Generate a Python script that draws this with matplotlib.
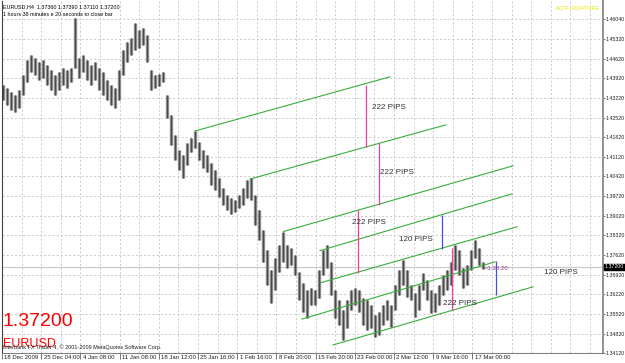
import matplotlib
matplotlib.use("Agg")
import matplotlib.pyplot as plt
import matplotlib.transforms as mtransforms
import numpy as np

# ---------------- data ----------------
symbol = "EURUSD"
title_line1 = "EURUSD,H4  1.37360 1.37390 1.37110 1.37200"
title_line2 = "1 hours 38 minutes e 20 seconds to close bar"
copyright_text = "Interbank FX Trader 4, \u00a9 2001-2009 MetaQuotes Software Corp."
indicator_text = "A:CP+2DHTRFE"
timer_text = "<1:38:20"
last_price = 1.37200

bar_high = [1.4368, 1.4357, 1.4343, 1.4332, 1.4350, 1.4404, 1.4457, 1.4475, 1.4464, 1.4450,
            1.4457, 1.4439, 1.4421, 1.4404, 1.4414, 1.4429, 1.4421, 1.4429, 1.4607, 1.4464,
            1.4475, 1.4457, 1.4439, 1.4450, 1.4429, 1.4414, 1.4386, 1.4368, 1.4357, 1.4421,
            1.4493, 1.4521, 1.4535, 1.4589, 1.4564, 1.4571, 1.4546, 1.4421, 1.4404, 1.4407,
            1.4414, 1.4332, 1.4261, 1.4189, 1.4137, 1.4119, 1.4161, 1.4179, 1.4204, 1.4165,
            1.4137, 1.4119, 1.4090, 1.4065, 1.4037, 1.4001, 1.3976, 1.3966, 1.3959, 1.3976,
            1.4001, 1.4030, 1.4037, 1.3976, 1.3923, 1.3852, 1.3781, 1.3709, 1.3752, 1.3798,
            1.3845, 1.3798, 1.3788, 1.3763, 1.3702, 1.3664, 1.3638, 1.3646, 1.3638, 1.3709,
            1.3781, 1.3798, 1.3738, 1.3638, 1.3603, 1.3567, 1.3603, 1.3638, 1.3646, 1.3638,
            1.3610, 1.3603, 1.3585, 1.3550, 1.3560, 1.3585, 1.3603, 1.3585, 1.3656, 1.3709,
            1.3745, 1.3709, 1.3656, 1.3628, 1.3656, 1.3699, 1.3674, 1.3638, 1.3628, 1.3656,
            1.3692, 1.3709, 1.3738, 1.3798, 1.3781, 1.3716, 1.3727, 1.3781, 1.3816, 1.3788,
            1.3739]
bar_low = [1.4315, 1.4297, 1.4279, 1.4272, 1.4286, 1.4332, 1.4379, 1.4414, 1.4404, 1.4386,
           1.4393, 1.4368, 1.4350, 1.4332, 1.4350, 1.4368, 1.4357, 1.4379, 1.4429, 1.4393,
           1.4414, 1.4386, 1.4368, 1.4386, 1.4350, 1.4332, 1.4315, 1.4297, 1.4286, 1.4315,
           1.4404, 1.4450, 1.4475, 1.4493, 1.4500, 1.4510, 1.4450, 1.4350, 1.4357, 1.4364,
           1.4379, 1.4251, 1.4154, 1.4101, 1.4065, 1.4037, 1.4083, 1.4130, 1.4144, 1.4101,
           1.4073, 1.4058, 1.4012, 1.3994, 1.3969, 1.3941, 1.3923, 1.3909, 1.3916, 1.3930,
           1.3941, 1.3966, 1.3959, 1.3870, 1.3816, 1.3738, 1.3656, 1.3592, 1.3638, 1.3702,
           1.3738, 1.3716, 1.3727, 1.3692, 1.3603, 1.3560, 1.3539, 1.3585, 1.3585, 1.3610,
           1.3692, 1.3716, 1.3621, 1.3539, 1.3514, 1.3460, 1.3503, 1.3567, 1.3585, 1.3560,
           1.3514, 1.3496, 1.3503, 1.3471, 1.3478, 1.3514, 1.3531, 1.3507, 1.3567, 1.3621,
           1.3656, 1.3614, 1.3603, 1.3543, 1.3567, 1.3638, 1.3603, 1.3557, 1.3560, 1.3585,
           1.3621, 1.3638, 1.3656, 1.3709, 1.3692, 1.3646, 1.3656, 1.3709, 1.3752, 1.3727,
           1.3711]

date_labels = ["18 Dec 2009", "25 Dec 04:00", "4 Jan 08:00", "11 Jan 08:00", "18 Jan 12:00",
               "25 Jan 16:00", "1 Feb 16:00", "8 Feb 20:00", "15 Feb 20:00", "23 Feb 00:00",
               "2 Mar 12:00", "9 Mar 16:00", "17 Mar 00:00"]
price_labels = [1.46040, 1.45320, 1.44620, 1.43920, 1.43220, 1.42520, 1.41820, 1.41120,
                1.40420, 1.39720, 1.39020, 1.38320, 1.37620, 1.36920, 1.36220, 1.35520,
                1.34820, 1.34120]

# trend lines (bar index / price of both ends)
trend_start_bar = [48.0, 61.75, 70.1, 79.25, 79.25, 74.7, 82.5]
trend_start_price = [1.4204, 1.4033, 1.3846, 1.3778, 1.3663, 1.3534, 1.3442]
trend_end_bar = [96.75, 110.75, 127.5, 127.25, 128.5, 123.0, 132.5]
trend_end_price = [1.4397, 1.4226, 1.4080, 1.3980, 1.3863, 1.3738, 1.3649]

# 222 pips measurement lines
pink_bar = [90.75, 94.0, 88.75, 112.25]
pink_top = [1.4368, 1.4161, 1.3923, 1.3788]
pink_bottom = [1.4146, 1.3939, 1.3699, 1.3567]
# 120 pips measurement lines
blue_bar = [109.7, 123.25]
blue_top = [1.3905, 1.3740]
blue_bottom = [1.3785, 1.3620]

pips_text = ["222 PIPS", "222 PIPS", "222 PIPS", "120 PIPS", "222 PIPS", "120 PIPS"]
pips_bar = [92.25, 94.25, 87.25, 99.0, 110.0, 135.25]
pips_price = [1.4286, 1.4058, 1.3877, 1.3819, 1.3591, 1.3699]

# ---------------- figure ----------------
W, H = 625, 363
fig = plt.figure(figsize=(W / 100, H / 100), dpi=100)
fig.patch.set_facecolor("white")
ax = fig.add_axes([2 / W, (H - 353.4) / H, 601 / W, 352.4 / H])
ax.set_facecolor("white")
ax.set_xlim(-0.25, 150)
ax.set_ylim(1.3412, 1.4667)

FONT = "Liberation Sans"
grid_kw = dict(color="#c4c4c4", lw=0.6, ls=(0, (2.5, 2.5)), zorder=0)
for gx in np.arange(-0.25, 150, 4.9):
    ax.axvline(gx, **grid_kw)
for gp in price_labels:
    ax.axhline(gp, **grid_kw)

# bid line
ax.axhline(last_price, color="#c8c8c8", lw=0.8, zorder=1)

# bars: light body + dark core for the dense MT4 look
idx = np.arange(len(bar_high))
ax.vlines(idx, bar_low, bar_high, color="#8e8e8e", lw=2.4, zorder=2)
ax.vlines(idx, bar_low, bar_high, color="#4a4a4a", lw=0.8, zorder=2)

# trend lines
for x0, p0, x1, p1 in zip(trend_start_bar, trend_start_price, trend_end_bar, trend_end_price):
    ax.plot([x0, x1], [p0, p1], color="#3aad3a", lw=0.8, zorder=3)
ax.vlines(pink_bar, pink_bottom, pink_top, color="#ee3f9a", lw=0.9, zorder=3)
ax.vlines(blue_bar, blue_bottom, blue_top, color="#4a4ae8", lw=0.9, zorder=3)

for t, b, p in zip(pips_text, pips_bar, pips_price):
    ax.text(b, p, t, fontsize=5.8, family=FONT, color="#303030", ha="left", va="center", zorder=4)

ax.text(len(bar_high) - 0.5, 1.3715, timer_text, fontsize=4.3, family=FONT,
        color="#9040a0", ha="left", va="center", zorder=4)

# overlay texts (axes coords)
ax.text(1 / 601, 1 - 6 / 352.4, title_line1, transform=ax.transAxes, fontsize=3.9,
        family=FONT, color="black", ha="left", va="center", zorder=5)
ax.text(1 / 601, 1 - 13.5 / 352.4, title_line2, transform=ax.transAxes, fontsize=3.9,
        family=FONT, color="black", ha="left", va="center", zorder=5)
ax.text(1 - 3 / 601, 1 - 8 / 352.4, indicator_text, transform=ax.transAxes, fontsize=4.2,
        family=FONT, color="#e6e600", ha="right", va="center", zorder=5)

fig.text(3 / W, 1 - 321 / H, f"{last_price:.5f}", fontsize=14, family=FONT,
         color="#ff0000", ha="left", va="center")
fig.text(3 / W, 1 - 344 / H, symbol, fontsize=9, family=FONT, color="#ff0000",
         ha="left", va="center")
fig.text(3 / W, 1 - 347 / H, copyright_text, fontsize=4.0, family=FONT, color="#202020",
         ha="left", va="center")

# axes / ticks
ax.spines["top"].set_visible(False)
ax.spines["left"].set_color("#404040")
ax.spines["bottom"].set_color("#808080")
ax.spines["right"].set_color("#909090")
ax.spines["right"].set_linewidth(1.4)

ax.yaxis.tick_right()
ax.set_yticks(price_labels)
ax.set_yticklabels([f"{v:.5f}" for v in price_labels])
ax.tick_params(axis="y", which="both", right=True, left=False, length=1.5, width=0.6,
               color="#606060", labelsize=3.75, pad=0.4, labelcolor="#202020")
for lbl in ax.get_yticklabels():
    lbl.set_fontfamily(FONT)

date_pos = -0.25 + 9.8 * np.arange(len(date_labels))
ax.set_xticks(date_pos)
ax.set_xticklabels([])
ax.tick_params(axis="x", length=4, width=0.6, color="#606060", direction="out")
xlab_tr = mtransforms.blended_transform_factory(ax.transData, fig.transFigure)
for pos, lab in zip(date_pos, date_labels):
    ax.text(pos + 0.6, 1 - 357.5 / H, lab, transform=xlab_tr, fontsize=4.3, family=FONT,
            color="#202020", ha="left", va="center", clip_on=False)

# current price box on axis
ax.text(1.0 + 2 / 601, last_price, f"{last_price:.5f}",
        transform=mtransforms.blended_transform_factory(ax.transAxes, ax.transData),
        fontsize=3.75, family=FONT, color="white", ha="left", va="center", zorder=6,
        bbox=dict(boxstyle="square,pad=0.12", fc="black", ec="black"), clip_on=False)

fig.savefig("out.png", dpi=100)
